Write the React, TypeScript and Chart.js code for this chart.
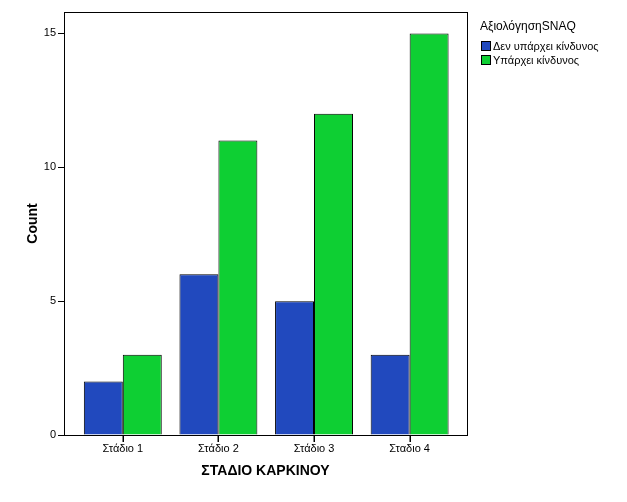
import React, { useEffect, useRef } from "react";
import { Chart, registerables } from "chart.js";

Chart.register(...registerables);

const categories = ["Στάδιο 1", "Στάδιο 2", "Στάδιο 3", "Σταδιο 4"];
const seriesNames = ["Δεν υπάρχει κίνδυνος", "Υπάρχει κίνδυνος"];
const noRisk = [2, 6, 5, 3];
const risk = [3, 11, 12, 15];
const yTicks = [0, 5, 10, 15];
const legendTitle = "ΑξιολόγησηSNAQ";
const xTitle = "ΣΤΑΔΙΟ ΚΑΡΚΙΝΟΥ";
const yTitle = "Count";

const FONT = 'Arial, "Liberation Sans", sans-serif';

export default function App() {
  const ref = useRef<HTMLCanvasElement | null>(null);
  useEffect(() => {
    if (!ref.current) return;
    const framePlugin = {
      id: "frame",
      afterDraw(chart: any) {
        const { ctx, chartArea: a } = chart;
        ctx.save();
        ctx.strokeStyle = "#000";
        ctx.lineWidth = 1;
        ctx.strokeRect(Math.round(a.left) + 0.5, Math.round(a.top) + 0.5, Math.round(a.right - a.left), Math.round(a.bottom - a.top));
        // x tick marks at category centres
        const xs = chart.scales.x;
        ctx.fillStyle = "#000";
        for (let i = 0; i < categories.length; i++) {
          const px = Math.round(xs.getPixelForValue(i));
          ctx.fillRect(px - 0.5, Math.round(a.bottom), 1.5, 7);
        }
        // legend
        ctx.fillStyle = "#000";
        ctx.font = `12px ${FONT}`;
        ctx.textBaseline = "middle";
        ctx.textAlign = "left";
        ctx.fillText(legendTitle, 480, 27);
        ctx.font = `11px ${FONT}`;
        chart.data.datasets.forEach((ds: any, i: number) => {
          const y = 41 + i * 14;
          ctx.fillStyle = ds.backgroundColor;
          ctx.fillRect(481, y, 10, 10);
          ctx.strokeStyle = "#000";
          ctx.strokeRect(481.5, y + 0.5, 9, 9);
          ctx.fillStyle = "#000";
          ctx.fillText(ds.label, 493, y + 5.5);
        });
        ctx.restore();
      },
    };
    const toPoints = (arr: number[]) => arr.map((v, i) => ({ x: i, y: v }));
    const chart = new Chart(ref.current, {
      type: "bar",
      data: {
        datasets: [
          { label: seriesNames[0], data: toPoints(noRisk), backgroundColor: "#2149BE", borderColor: "#000", borderWidth: 1 },
          { label: seriesNames[1], data: toPoints(risk), backgroundColor: "#0ECF33", borderColor: "#000", borderWidth: 1 },
        ],
      },
      options: {
        animation: false,
        responsive: false,
        maintainAspectRatio: false,
        layout: { padding: { left: 25, top: 12, right: 160, bottom: 20 } },
        plugins: { legend: { display: false }, tooltip: { enabled: false } },
        datasets: { bar: { categoryPercentage: 0.815, barPercentage: 1 } },
        scales: {
          x: {
            type: "linear",
            min: -0.615,
            max: 3.6,
            offset: false,
            grid: { display: true, drawOnChartArea: false, drawTicks: true, tickLength: 5, color: "rgba(0,0,0,0)" },
            border: { color: "#000" },
            ticks: {
              color: "#000",
              font: { family: FONT, size: 11 },
              padding: 2,
              maxRotation: 0,
              autoSkip: false,
              callback: (v: any) => categories[v] ?? "",
            },
            afterBuildTicks(scale: any) { scale.ticks = categories.map((_, i) => ({ value: i })); },
            title: { display: true, text: xTitle, color: "#000", font: { family: FONT, size: 14, weight: "bold" }, padding: { top: 4, bottom: 2 } },
            afterFit(scale: any) { scale.height = 47; },
          },
          y: {
            min: 0,
            max: 15.8,
            grid: { drawOnChartArea: false, drawTicks: true, tickLength: 6, color: "#000" },
            border: { color: "#000" },
            ticks: { color: "#000", font: { family: FONT, size: 11 }, padding: 2, stepSize: 5 },
            afterBuildTicks(scale: any) { scale.ticks = yTicks.map((v) => ({ value: v })); },
            title: { display: true, text: yTitle, color: "#000", font: { family: FONT, size: 14, weight: "bold" }, padding: { top: 0, bottom: 0 } },
            afterFit(scale: any) { scale.width = 39; },
          },
        },
      },
      plugins: [framePlugin],
    } as any);
    return () => chart.destroy();
  }, []);
  return (
    <div style={{ position: "fixed", left: 0, top: 0, width: 627, height: 502, background: "#fff" }}>
      <canvas ref={ref} width={627} height={502} style={{ width: 627, height: 502 }} />
    </div>
  );
}
